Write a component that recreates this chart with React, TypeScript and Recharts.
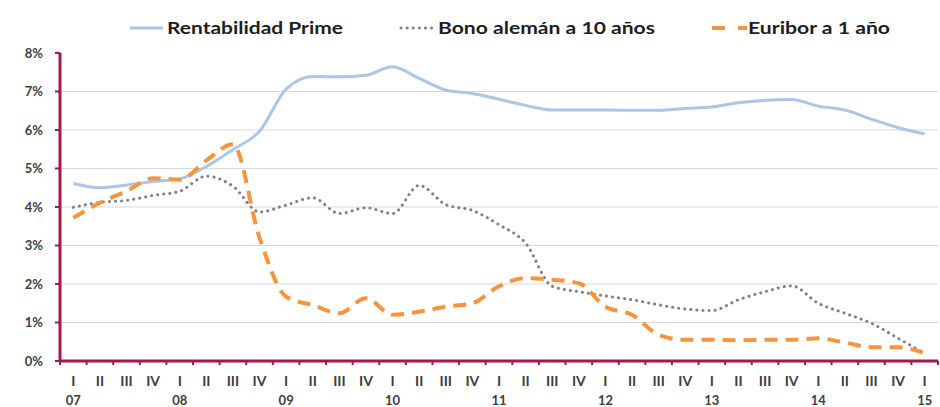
import React from 'react';
import { LineChart, Line, XAxis, YAxis, CartesianGrid } from 'recharts';

const quarterLabels = ['I','II','III','IV','I','II','III','IV','I','II','III','IV','I','II','III','IV','I','II','III','IV','I','II','III','IV','I','II','III','IV','I','II','III','IV','I'];
const yearLabels = ['07','08','09','10','11','12','13','14','15'];
const rentabilidadPrime = [4.61,4.50,4.57,4.66,4.73,5.05,5.49,5.97,7.06,7.39,7.38,7.42,7.64,7.34,7.04,6.95,6.80,6.64,6.52,6.52,6.52,6.51,6.51,6.56,6.60,6.71,6.77,6.79,6.62,6.52,6.28,6.06,5.90];
const bonoAleman = [3.99,4.12,4.17,4.30,4.41,4.80,4.54,3.87,4.05,4.24,3.83,3.98,3.83,4.56,4.06,3.91,3.54,3.06,1.94,1.80,1.69,1.59,1.46,1.35,1.31,1.59,1.80,1.95,1.50,1.24,0.98,0.59,0.20];
const euribor = [3.72,4.11,4.41,4.75,4.71,5.21,5.63,3.2,1.67,1.45,1.24,1.63,1.20,1.28,1.41,1.50,1.94,2.15,2.11,2.02,1.41,1.20,0.68,0.55,0.55,0.54,0.55,0.55,0.59,0.48,0.36,0.36,0.20];
const yTicks = [0,1,2,3,4,5,6,7,8];
const gridValues = [1,2,3,4,5,6,7];

const data = quarterLabels.map((q, i) => ({
  key: String(i),
  quarter: q,
  year: q === 'I' ? yearLabels[Math.floor(i / 4)] : '',
  prime: rentabilidadPrime[i],
  bono: bonoAleman[i],
  euribor: euribor[i],
}));

const AXIS = '#a3194b';
const FONT = 'Lato, "Liberation Sans", Arial, sans-serif';
const HALF = 13.3;

const QTick = (props: any) => {
  const { x, y, index } = props;
  const d = data[index];
  const last = index === data.length - 1;
  return (
    <g>
      <line x1={x - HALF} x2={x - HALF} y1={y} y2={y + 4} stroke={AXIS} strokeWidth={2} />
      {last && <line x1={x + HALF} x2={x + HALF} y1={y} y2={y + 4} stroke={AXIS} strokeWidth={2} />}
      <text x={x} y={y + 25} textAnchor="middle" fontFamily={FONT} fontWeight={700} fontSize={14} fill="#404040">{d.quarter}</text>
      {d.year && <text x={x} y={y + 44} textAnchor="middle" fontFamily={FONT} fontWeight={700} fontSize={13} fill="#404040">{d.year}</text>}
    </g>
  );
};

export default function App() {
  return (
    <div style={{ position: 'absolute', left: 0, top: 0, width: 940, height: 407, background: '#fff' }}>
      <LineChart width={940} height={407} data={data} margin={{ top: 53, right: 2, left: 0, bottom: 0 }}>
        <CartesianGrid horizontal vertical={false} horizontalValues={gridValues} stroke="#d9d9d9" strokeWidth={1} />
        <XAxis dataKey="key" interval={0} height={46} tickLine={false} tickSize={0} tickMargin={0}
          axisLine={{ stroke: AXIS, strokeWidth: 3 }} padding={{ left: HALF, right: HALF }} tick={<QTick />} />
        <YAxis width={60} domain={[0, 8]} ticks={yTicks} interval={0} tickFormatter={(v: number) => `${v}%`}
          axisLine={{ stroke: AXIS, strokeWidth: 3 }} tickLine={{ stroke: AXIS, strokeWidth: 2 }} tickSize={5} tickMargin={12}
          tick={{ fill: '#404040', fontSize: 13, fontWeight: 700, fontFamily: FONT }} />
        <Line type="monotone" dataKey="prime" stroke="#adc5e7" strokeWidth={3} dot={false} isAnimationActive={false} />
        <Line type="monotone" dataKey="bono" stroke="#808080" strokeWidth={3} strokeDasharray="0.1 6" strokeLinecap="round" dot={false} isAnimationActive={false} />
        <Line type="monotone" dataKey="euribor" stroke="#f5953f" strokeWidth={4} strokeDasharray="13 8" dot={false} isAnimationActive={false} />
      </LineChart>
      <svg width={940} height={45} style={{ position: 'absolute', left: 0, top: 0 }}>
        <line x1={130} x2={163} y1={28} y2={28} stroke="#adc5e7" strokeWidth={3} />
        <text x={167} y={34} textLength={176} lengthAdjust="spacingAndGlyphs" fontFamily={FONT} fontWeight={700} fontSize={17} fill="#1e1e1e">Rentabilidad Prime</text>
        <line x1={401} x2={435} y1={28} y2={28} stroke="#808080" strokeWidth={3} strokeDasharray="0.1 6" strokeLinecap="round" />
        <text x={438} y={34} textLength={217} lengthAdjust="spacingAndGlyphs" fontFamily={FONT} fontWeight={700} fontSize={17} fill="#1e1e1e">Bono alemán a 10 años</text>
        <line x1={712} x2={747} y1={28} y2={28} stroke="#f5953f" strokeWidth={4} strokeDasharray="13 13" />
        <text x={748} y={34} textLength={142} lengthAdjust="spacingAndGlyphs" fontFamily={FONT} fontWeight={700} fontSize={17} fill="#1e1e1e">Euribor a 1 año</text>
      </svg>
    </div>
  );
}
